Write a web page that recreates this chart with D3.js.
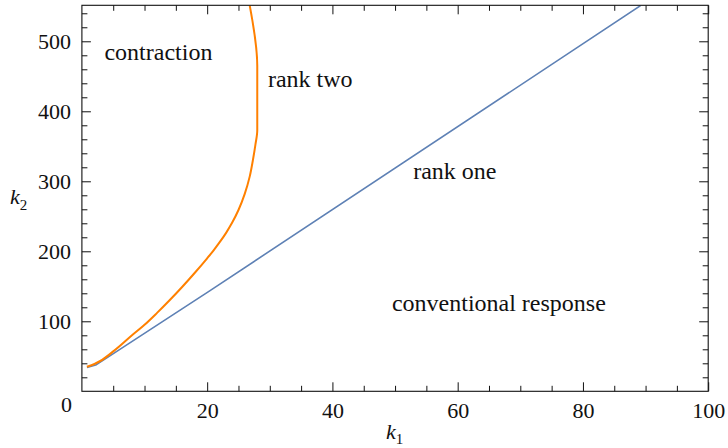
<!DOCTYPE html>
<html>
<head>
<meta charset="utf-8">
<script src="https://cdn.jsdelivr.net/npm/d3@7"></script>
<style>
  html, body { margin: 0; padding: 0; background: #fff; }
  svg { display: block; }
</style>
</head>
<body>
<svg id="chart" width="728" height="448"></svg>
<script>
// Boundary curves in the (k1, k2) plane
const blueK1 = [0.8, 2.2, 20.4, 89.2];
const blueK2 = [34, 37.5, 143.5, 551];

const orangeK1 = [0.8, 2, 5, 8, 10, 12, 14, 16, 18, 20, 21, 22, 23, 24, 25, 26, 26.8, 27.3, 27.7, 28, 28, 26.8];
const orangeK2 = [35, 39, 57, 80, 95, 112, 130, 149, 169, 190, 201, 213, 226, 241, 259, 282, 307, 330, 352, 373, 465, 551];

// Tick values
const k1Major = [20, 40, 60, 80, 100];
const k2Major = [100, 200, 300, 400, 500];
const k1Minor = d3.range(5, 100, 5).filter(v => v % 20 !== 0);
const k2Minor = d3.range(20, 560, 20).filter(v => v % 100 !== 0);

// Region labels: [text, k1, k2]
const regionNames = ["contraction", "rank two", "rank one", "conventional response"];
const regionK1 = [3.6, 29.7, 52.9, 49.5];
const regionK2 = [473, 434, 303, 114];

// Pick the first serif face that is actually available (measured against monospace)
function pickFont(candidates) {
  const ctx = document.createElement("canvas").getContext("2d");
  const sample = "contraction mmmwwwiiil 0123456789";
  for (const f of candidates) {
    for (const base of ["monospace", "sans-serif"]) {
      ctx.font = `40px ${base}`;
      const w0 = ctx.measureText(sample).width;
      ctx.font = `40px "${f}", ${base}`;
      const w1 = ctx.measureText(sample).width;
      if (Math.abs(w1 - w0) > 0.5) return `"${f}", serif`;
    }
  }
  return "serif";
}
const SERIF = pickFont([
  "Liberation Serif", "Tinos", "Times New Roman", "Times", "Nimbus Roman",
  "FreeSerif", "DejaVu Serif", "Noto Serif", "Georgia"
]);

const svg = d3.select("#chart");
const L = 81.9, R = 708.2, T = 5.3, B = 391.3;

const x = d3.scaleLinear().domain([0, 100]).range([L, R]);
const y = d3.scaleLinear().domain([0, 551.4]).range([B, T]);

svg.append("defs").append("clipPath").attr("id", "plotclip")
  .append("rect").attr("x", L).attr("y", T).attr("width", R - L).attr("height", B - T);

const plot = svg.append("g").attr("clip-path", "url(#plotclip)");

const line = d3.line().x(d => x(d[0])).y(d => y(d[1]));

plot.append("path")
  .datum(d3.zip(blueK1, blueK2))
  .attr("d", line)
  .attr("fill", "none")
  .attr("stroke", "#5e81b5")
  .attr("stroke-width", 1.6)
  .attr("stroke-linejoin", "round");

// Orange boundary is monotone in k2: draw top-down so screen y increases
const orangeLine = d3.line().x(d => x(d[0])).y(d => y(d[1])).curve(d3.curveMonotoneY);
plot.append("path")
  .datum(d3.zip(orangeK1, orangeK2).reverse())
  .attr("d", orangeLine)
  .attr("fill", "none")
  .attr("stroke", "#ff8000")
  .attr("stroke-width", 2)
  .attr("stroke-linejoin", "round");

// Axes: ticks drawn inward on all four sides
const fontSize = 22;
function styleAxis(g) {
  g.attr("font-family", null).attr("font-size", null);
  g.select(".domain").remove();
  g.selectAll(".tick line").attr("stroke", "#111").attr("stroke-width", 1);
  g.selectAll("text")
    .style("font-family", SERIF)
    .style("font-size", fontSize + "px")
    .attr("fill", "#111");
}

svg.append("g").attr("transform", `translate(0,${B})`)
  .call(d3.axisBottom(x).tickValues(k1Major).tickSize(-9).tickPadding(11).tickFormat(d3.format("d")))
  .call(styleAxis);
svg.append("g").attr("transform", `translate(0,${B})`)
  .call(d3.axisBottom(x).tickValues(k1Minor).tickSize(-5.5).tickFormat(""))
  .call(styleAxis);
svg.append("g").attr("transform", `translate(0,${T})`)
  .call(d3.axisTop(x).tickValues(k1Major).tickSize(-9).tickFormat(""))
  .call(styleAxis);
svg.append("g").attr("transform", `translate(0,${T})`)
  .call(d3.axisTop(x).tickValues(k1Minor).tickSize(-5.5).tickFormat(""))
  .call(styleAxis);

svg.append("g").attr("transform", `translate(${L},0)`)
  .call(d3.axisLeft(y).tickValues(k2Major).tickSize(-9).tickPadding(11).tickFormat(d3.format("d")))
  .call(styleAxis);
svg.append("g").attr("transform", `translate(${L},0)`)
  .call(d3.axisLeft(y).tickValues(k2Minor).tickSize(-5.5).tickFormat(""))
  .call(styleAxis);
svg.append("g").attr("transform", `translate(${R},0)`)
  .call(d3.axisRight(y).tickValues(k2Major).tickSize(-9).tickFormat(""))
  .call(styleAxis);
svg.append("g").attr("transform", `translate(${R},0)`)
  .call(d3.axisRight(y).tickValues(k2Minor).tickSize(-5.5).tickFormat(""))
  .call(styleAxis);

// Shared origin label
svg.append("text").attr("x", 66.5).attr("y", 412).attr("text-anchor", "middle")
  .style("font-family", SERIF).style("font-size", fontSize + "px").attr("fill", "#111")
  .text("0");

// Frame
svg.append("rect").attr("x", L).attr("y", T).attr("width", R - L).attr("height", B - T)
  .attr("fill", "none").attr("stroke", "#111").attr("stroke-width", 1.1);

// Axis titles with subscripts
const xt = svg.append("text").attr("x", 386).attr("y", 439)
  .style("font-family", SERIF).style("font-size", fontSize + "px").attr("fill", "#111");
xt.append("tspan").style("font-style", "italic").text("k");
xt.append("tspan").attr("dy", 5).style("font-size", "15px").text("1");

const yt = svg.append("text").attr("x", 10).attr("y", 204)
  .style("font-family", SERIF).style("font-size", fontSize + "px").attr("fill", "#111");
yt.append("tspan").style("font-style", "italic").text("k");
yt.append("tspan").attr("dy", 6).style("font-size", "15px").text("2");

// Region labels
svg.append("g").selectAll("text")
  .data(d3.zip(regionNames, regionK1, regionK2))
  .join("text")
  .attr("x", d => x(d[1]))
  .attr("y", d => y(d[2]))
  .style("font-family", SERIF)
  .style("font-size", "24px")
  .attr("fill", "#111")
  .text(d => d[0]);
</script>
</body>
</html>
